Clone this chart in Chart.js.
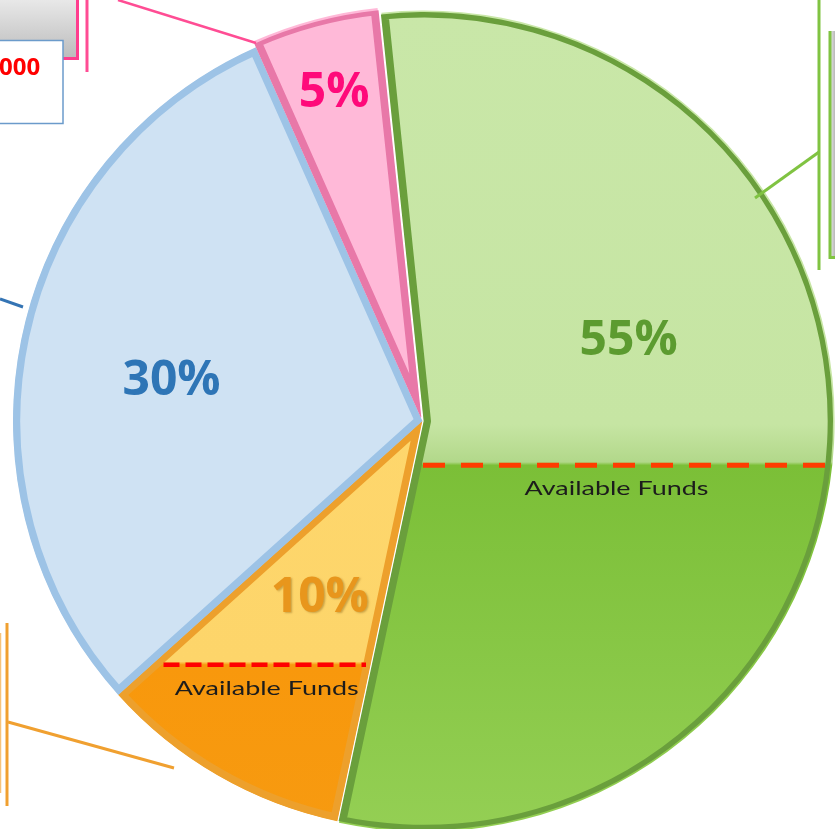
<!DOCTYPE html>
<html><head><meta charset="utf-8">
<script src="https://cdn.jsdelivr.net/npm/chart.js@4"></script>
<style>html,body{margin:0;padding:0;background:#fff;overflow:hidden}canvas{display:block}</style>
</head><body>
<canvas id="c" width="835" height="829"></canvas>
<script>
// ---- data ----
const categories = ['Segment A', 'Segment B', 'Segment C', 'Segment D'];
const values = [55, 10, 30, 5];
const percentLabels = ['55%', '10%', '30%', '5%'];
const fundsLabels = ['Available Funds', 'Available Funds', null, null];
const calloutTexts = ['000'];

// ---- styles ----
const RADIUS = 409;
const upperColors = ['#c9e7a8', '#ffd970', '#cfe2f3', '#ffb9d8'];
const lowerTop = ['#7bbf37', '#f8980c'];
const lowerBottom = ['#94cf54', '#f79a10'];
const borderColors = ['#6a9f3c', '#eda02c', '#9dc3e6', '#e878a8'];
const labelColors = ['#5c9b30', '#e8961c', '#2e75b6', '#ff0a7a'];
const splitLevel = [0.108, 0.596, null, null]; // fraction of radius below centre
const labelPlace = [{f: 0.377, r: 0.537}, {f: 0.5, r: 0.5}, {f: 0.472, r: 0.62}, {f: 0.5, r: 0.82}];
const dashStyle = [{c: '#ff3c00', w: 5, d: [22, 16], inL: 8, inR: 0, tdx: -12},
                   {c: '#ff0000', w: 4.5, d: [16, 6], inL: 12, inR: 4, tdx: 2}];

function bg(context) {
  const i = context.dataIndex;
  const chart = context.chart;
  const ca = chart.chartArea;
  if (splitLevel[i] == null || !ca) return upperColors[i];
  const cy = (ca.top + ca.bottom) / 2;
  const g = chart.ctx.createLinearGradient(0, cy - RADIUS, 0, cy + RADIUS);
  const t = (1 + splitLevel[i]) / 2;
  g.addColorStop(0, upperColors[i]);
  if (i === 0) {
    g.addColorStop(t - 0.05, '#c6e5a3');
    g.addColorStop(t - 0.004, '#b2d88a');
  } else {
    g.addColorStop(t - 0.004, '#fdd56a');
  }
  g.addColorStop(t, lowerTop[i]);
  g.addColorStop(1, lowerBottom[i]);
  return g;
}

function arcGeom(arc) {
  const off = (arc.options.offset || 0) / 4;
  const mid = (arc.startAngle + arc.endAngle) / 2;
  return {x: arc.x + Math.cos(mid) * off, y: arc.y + Math.sin(mid) * off};
}

const overlay = {
  id: 'overlay',
  afterDatasetsDraw(chart) {
    const ctx = chart.ctx;
    const meta = chart.getDatasetMeta(0);
    const ca = chart.chartArea;
    meta.data.forEach((arc, i) => {
      const c = arcGeom(arc);
      if (splitLevel[i] != null) {
        const y0 = arc.y + splitLevel[i] * arc.outerRadius;
        let xmin = null, xmax = null;
        for (let x = ca.left; x <= ca.right; x += 0.5) {
          if (arc.inRange(x, y0)) { if (xmin === null) xmin = x; xmax = x; }
        }
        const dx = c.x - arc.x;
        const s = dashStyle[i];
        const x1 = xmin + dx + s.inL, x2 = xmax + dx - s.inR;
        ctx.save();
        ctx.strokeStyle = s.c; ctx.lineWidth = s.w; ctx.setLineDash(s.d);
        ctx.beginPath(); ctx.moveTo(x1, y0); ctx.lineTo(x2, y0); ctx.stroke();
        ctx.restore();
        ctx.save();
        ctx.fillStyle = '#1c1c1c';
        ctx.font = '19px Lato';
        ctx.textAlign = 'center'; ctx.textBaseline = 'middle';
        const w = ctx.measureText(fundsLabels[i]).width;
        const sx = 184 / w;
        ctx.translate((x1 + x2) / 2 + s.tdx, y0 + 24);
        ctx.scale(sx, 1);
        ctx.fillText(fundsLabels[i], 0, 0);
        ctx.restore();
      }
      const p = labelPlace[i];
      const a = arc.startAngle + (arc.endAngle - arc.startAngle) * p.f;
      const r = arc.outerRadius * p.r;
      ctx.save();
      ctx.font = 'bold 48px "Open Sans"';
      ctx.textAlign = 'center'; ctx.textBaseline = 'middle';
      ctx.fillStyle = labelColors[i];
      if (i === 1) {
        ctx.shadowColor = 'rgba(110,70,0,0.35)';
        ctx.shadowOffsetX = 1.5; ctx.shadowOffsetY = 1.5; ctx.shadowBlur = 2;
      }
      ctx.fillText(percentLabels[i], c.x + Math.cos(a) * r, c.y + Math.sin(a) * r);
      ctx.restore();
    });
  },
  afterDraw(chart) {
    const ctx = chart.ctx;
    const line = (pts, col, w) => {
      ctx.save(); ctx.strokeStyle = col; ctx.lineWidth = w; ctx.setLineDash([]);
      ctx.beginPath(); ctx.moveTo(pts[0], pts[1]);
      for (let k = 2; k < pts.length; k += 2) ctx.lineTo(pts[k], pts[k + 1]);
      ctx.stroke(); ctx.restore();
    };
    ctx.save();
    let g = ctx.createLinearGradient(0, 0, 0, 58);
    g.addColorStop(0, '#e8e8e8'); g.addColorStop(1, '#bcbcbc');
    ctx.fillStyle = g; ctx.fillRect(0, 0, 77, 57);
    ctx.restore();
    line([77.5, 0, 77.5, 58.5, 0, 58.5], '#ff3d8e', 3);
    line([87, 0, 87, 72], '#ff4d94', 3);
    line([118, 0, 256, 43], '#ff4d94', 2.5);
    ctx.save();
    ctx.fillStyle = '#fff'; ctx.fillRect(-2, 40, 65, 83);
    ctx.strokeStyle = '#6b9bcb'; ctx.lineWidth = 1.5; ctx.strokeRect(-2, 40.5, 65, 83);
    ctx.fillStyle = '#ff0000'; ctx.font = 'bold 24px "Open Sans"';
    ctx.textAlign = 'left'; ctx.textBaseline = 'alphabetic';
    ctx.fillText(calloutTexts[0], -1, 75);
    ctx.restore();
    line([819, 0, 819, 270], '#80c342', 3);
    line([819, 152, 755, 198], '#80c342', 3);
    ctx.save();
    g = ctx.createLinearGradient(831, 0, 835, 0);
    g.addColorStop(0, '#e0e0e0'); g.addColorStop(1, '#b8b8b8');
    ctx.fillStyle = g; ctx.fillRect(831, 31, 4, 226);
    ctx.restore();
    line([830, 31, 830, 257.5, 835, 257.5], '#80c342', 3);
    line([0, 299, 23, 307], '#3474b4', 3);
    line([7, 623, 7, 806], '#f0a030', 3);
    line([0.5, 633, 0.5, 793], '#f6c37a', 1.5);
    line([8, 722, 174, 768], '#f0a030', 3);
  }
};

new Chart(document.getElementById('c'), {
  type: 'pie',
  data: {
    labels: categories,
    datasets: [{
      data: values,
      backgroundColor: bg,
      borderColor: borderColors,
      borderWidth: 7,
      borderAlign: 'inner',
      offset: [8, 0, 0, 16]
    }]
  },
  options: {
    responsive: false,
    animation: false,
    radius: RADIUS,
    rotation: -6,
    layout: {padding: {left: 9, top: 13, right: 0, bottom: 0}},
    plugins: {legend: {display: false}, tooltip: {enabled: false}}
  },
  plugins: [overlay]
});
</script>
</body></html>
